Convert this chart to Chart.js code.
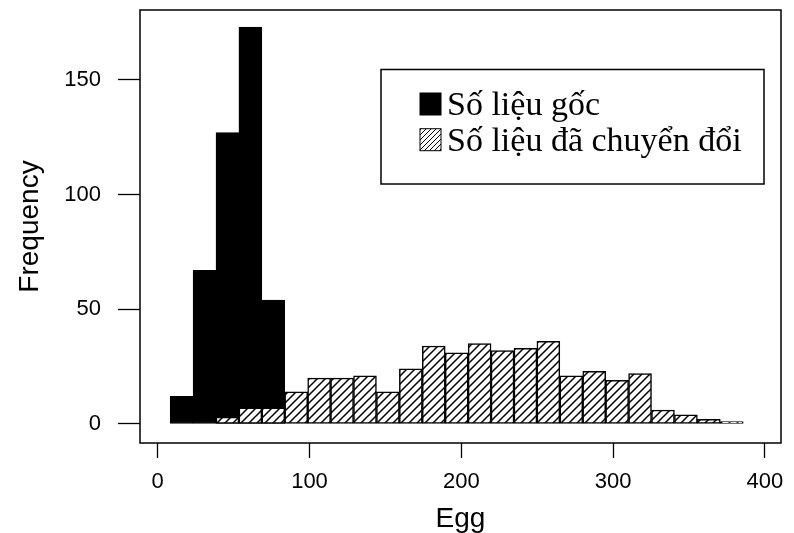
<!DOCTYPE html>
<html lang="vi">
<head>
<meta charset="UTF-8">
<title>Egg - Frequency</title>
<script src="https://cdn.jsdelivr.net/npm/chart.js@4.4.1/dist/chart.umd.min.js"></script>
<style>
  html, body { margin: 0; padding: 0; background: #fff; }
  #wrap { width: 794px; height: 533px; }
</style>
</head>
<body>
<div id="wrap"><canvas id="hist" width="794" height="533"></canvas></div>
<script>
// both histograms share one grid of bins, 15.1 eggs wide; starts are left edges
var binWidth = 15.1;
var rawStarts = [8.2, 23.3, 38.4, 53.5, 68.6];
var rawCounts = [12, 67, 127, 173, 54];
var transStarts = [38.4, 53.5, 68.6, 83.7, 98.8, 113.9, 129.0, 144.1, 159.2, 174.3, 189.4, 204.5,
                   219.6, 234.7, 249.8, 264.9, 280.0, 295.1, 310.2, 325.3, 340.4, 355.5, 370.6];
var transCounts = [3, 7, 7, 14, 20, 20, 21, 14, 24, 34, 31, 35,
                   32, 33, 36, 21, 23, 19, 22, 6, 4, 2, 1];
var xTicks = [0, 100, 200, 300, 400];
var yTicks = [0, 50, 100, 150];
var seriesNames = ['Số liệu gốc', 'Số liệu đã chuyển đổi'];

function toPoints(starts, counts) {
    var pts = [];
    for (var i = 0; i < starts.length; i++) {
        pts.push({ x: starts[i] + binWidth / 2, y: counts[i] });
    }
    return pts;
}

// diagonal "/" hatching on white
function hatch(step, lw) {
    var c = document.createElement('canvas');
    c.width = step; c.height = step;
    var g = c.getContext('2d');
    g.fillStyle = '#fff';
    g.fillRect(0, 0, step, step);
    g.strokeStyle = '#000';
    g.lineWidth = lw;
    g.beginPath();
    g.moveTo(-1, step + 1); g.lineTo(step + 1, -1);
    g.moveTo(-1, 1); g.lineTo(1, -1);
    g.moveTo(step - 1, step + 1); g.lineTo(step + 1, step - 1);
    g.stroke();
    return g.createPattern(c, 'repeat');
}

var barHatch = hatch(8, 1.5);
var keyHatch = hatch(5, 1);

// plot frame plus the key box
var frameAndKey = {
    id: 'frameAndKey',
    afterDraw: function (chart) {
        var ctx = chart.ctx, a = chart.chartArea;
        ctx.save();
        ctx.strokeStyle = '#000';
        ctx.lineWidth = 1.5;
        ctx.strokeRect(a.left, a.top, a.right - a.left, a.bottom - a.top);

        ctx.fillStyle = '#fff';
        ctx.fillRect(381, 69.5, 383, 114.5);
        ctx.strokeRect(381, 69.5, 383, 114.5);

        var sw = [chart.data.datasets[0].backgroundColor, keyHatch];
        var base = [115, 150.7];
        ctx.font = '34px "Liberation Serif", "Times New Roman", serif';
        ctx.textBaseline = 'alphabetic';
        ctx.textAlign = 'left';
        for (var i = 0; i < 2; i++) {
            ctx.fillStyle = sw[i];
            ctx.fillRect(420, base[i] - 22, 21, 22);
            ctx.lineWidth = 1;
            ctx.strokeRect(420, base[i] - 22, 21, 22);
            ctx.fillStyle = '#000';
            ctx.fillText(chart.data.datasets[i].label, 447, base[i]);
        }
        ctx.restore();
    }
};

var axisFont = { family: '"Liberation Sans", Arial, sans-serif', size: 22 };
var titleFont = { family: '"Liberation Sans", Arial, sans-serif', size: 28, lineHeight: 1 };

var chart = new Chart(document.getElementById('hist'), {
    type: 'bar',
    data: {
        datasets: [{
            label: seriesNames[0],
            data: toPoints(rawStarts, rawCounts),
            backgroundColor: '#000',
            borderColor: '#000',
            borderWidth: 1,
            borderSkipped: false,
            grouped: false,
            barPercentage: 1,
            categoryPercentage: 1,
            order: 2
        }, {
            label: seriesNames[1],
            data: toPoints(transStarts, transCounts),
            backgroundColor: barHatch,
            borderColor: '#000',
            borderWidth: 1.5,
            borderSkipped: false,
            grouped: false,
            barPercentage: 1,
            categoryPercentage: 1,
            order: 1
        }]
    },
    options: {
        responsive: false,
        animation: false,
        layout: { padding: { top: 10, right: 13, left: 0, bottom: 0 } },
        plugins: { legend: { display: false }, tooltip: { enabled: false } },
        scales: {
            x: {
                type: 'linear',
                min: -11.66,
                max: 410.6,
                offset: false,
                afterBuildTicks: function (s) { s.ticks = xTicks.map(function (v) { return { value: v }; }); },
                afterFit: function (s) {
                    s.height = 90;
                    s.paddingLeft = 0; s.paddingRight = 0;
                },
                grid: { drawOnChartArea: false, offset: false, tickLength: 15, tickWidth: 1.3, tickColor: '#000' },
                border: { display: false },
                ticks: { color: '#000', font: axisFont, padding: 11, maxRotation: 0, autoSkip: false },
                title: { display: true, text: 'Egg', color: '#000', font: titleFont, padding: 0 }
            },
            y: {
                min: -8.3,
                max: 180.5,
                afterBuildTicks: function (s) { s.ticks = yTicks.map(function (v) { return { value: v }; }); },
                afterFit: function (s) {
                    s.width = 140;
                    s.paddingTop = 0; s.paddingBottom = 0;
                },
                grid: { drawOnChartArea: false, tickLength: 22, tickWidth: 1.3, tickColor: '#000' },
                border: { display: false },
                ticks: { color: '#000', font: axisFont, padding: 17 },
                title: { display: true, text: 'Frequency', color: '#000', font: titleFont, padding: { top: 16 } }
            }
        }
    },
    plugins: [frameAndKey]
});
</script>
</body>
</html>
